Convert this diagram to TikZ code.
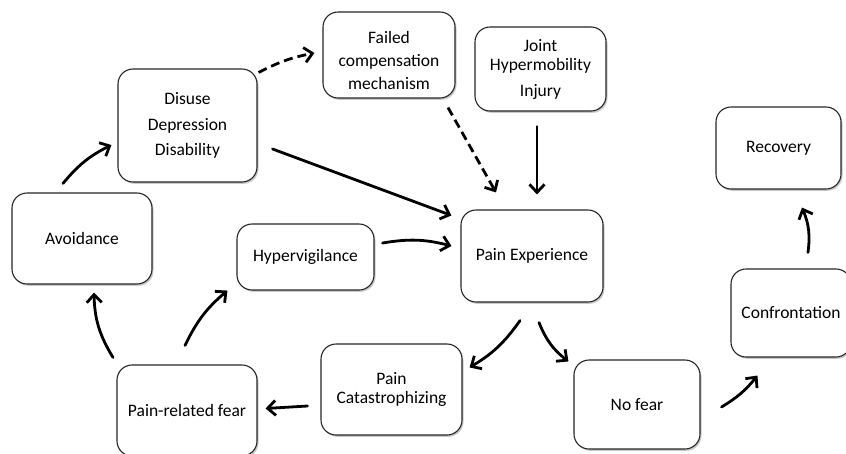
\documentclass[tikz,border=0pt]{standalone}
\usepackage{fontspec}
\setmainfont{Carlito}
\usetikzlibrary{arrows.meta,shadows,calc}
\begin{document}
\begin{tikzpicture}[x=1pt,y=1pt,
  box/.style={draw=black!85, line width=1.1pt, rounded corners=15pt, fill=white,
    align=center, inner sep=0pt, font=\fontsize{17.5}{21}\selectfont,
    drop shadow={shadow xshift=1.5pt, shadow yshift=-1.8pt, opacity=0.35, fill=black!60}},
  txt/.style={align=center, inner sep=0pt, font=\fontsize{17.5}{21}\selectfont},
  arr/.style={line width=2.8pt, -{Straight Barb[length=8pt,width=15pt]}, line cap=round},
  dsh/.style={arr, dash pattern=on 9pt off 5pt, line cap=butt}]
\useasboundingbox (0,0) rectangle (846,-453);
\clip (0,0) rectangle (846,-453);
\fill[white] (0,0) rectangle (846,-453);
% boxes
\node[box, minimum width=132pt, minimum height=86pt] (failed) at (389,-55) {};
\node[txt, font=\fontsize{17.5}{23}\selectfont] (failedtxt) at (389,-60) {Failed\\compensation\\mechanism};
\node[box, minimum width=139pt, minimum height=113pt, font=\fontsize{17.5}{25.5}\selectfont] (disuse) at (187.5,-125.5) {Disuse\\Depression\\Disability};
\node[box, minimum width=140pt, minimum height=91pt] (avoid) at (82,-238.5) {Avoidance};
\node[box, minimum width=131pt, minimum height=84pt, font=\fontsize{17.5}{19.5}\selectfont] (joint) at (540.5,-69) {Joint\\Hypermobility\\[6pt]Injury};
\node[box, minimum width=125pt, minimum height=82pt] (recovery) at (778.5,-148) {Recovery};
\node[box, minimum width=142pt, minimum height=92pt] (pain) at (532,-256) {Pain Experience};
\node[box, minimum width=137pt, minimum height=66pt] (hyper) at (305.5,-257) {Hypervigilance};
\node[box, minimum width=140pt, minimum height=91pt] (fear) at (187,-410.5) {Pain-related fear};
\node[box, minimum width=141pt, minimum height=91pt, font=\fontsize{17.5}{19.5}\selectfont] (catas) at (391.5,-389.5) {Pain\\Catastrophizing};
\node[box, minimum width=126pt, minimum height=89pt] (nofear) at (637,-404.5) {No fear};
\node[box, minimum width=120pt, minimum height=88pt] (confront) at (791,-313) {Confrontation};
% connectors
\draw[arr] ([shift={(-19,9)}]avoid.north) to[bend left=12] ([shift={(-6,-19.5)}]disuse.west);
\draw[dsh] ([shift={(1,-4)}]disuse.north east) to[bend left=8] ([shift={(-8,2)}]failed.west);
\draw[arr] ([shift={(15,-23.5)}]disuse.east) -- ([shift={(-9,-6)}]pain.north west);
\draw[dsh] ([shift={(59,-9)}]failed.south) -- ([shift={(-36,17)}]pain.north);
\draw[arr] ([shift={(-3.5,-15)}]joint.south) -- ([shift={(5,15)}]pain.north);
\draw[arr] ([shift={(8,14)}]hyper.east) to[bend left=12] ([shift={(-9,10)}]pain.west);
\draw[arr] ([shift={(-12,-18)}]pain.south) to[bend left=12] ([shift={(7,-24)}]catas.north east);
\draw[arr] ([shift={(7,-20)}]pain.south) to[bend right=15] ([shift={(-5,-2)}]nofear.north west);
\draw[arr] ([shift={(21,-2.5)}]nofear.east) to[bend right=10] ([shift={(27,-18)}]confront.south west);
\draw[arr] ([shift={(17,16)}]confront.north) to[bend right=15] ([shift={(23.5,-18)}]recovery.south);
\draw[arr] ([shift={(-13,-16.5)}]catas.west) -- ([shift={(8,2)}]fear.east);
\draw[arr] ([shift={(-74,7)}]fear.north) to[bend left=15] ([shift={(12,-8)}]avoid.south);
\draw[arr] ([shift={(-2,19)}]fear.north) to[bend left=12] ([shift={(-9,0)}]hyper.south west);
\end{tikzpicture}
\end{document}
